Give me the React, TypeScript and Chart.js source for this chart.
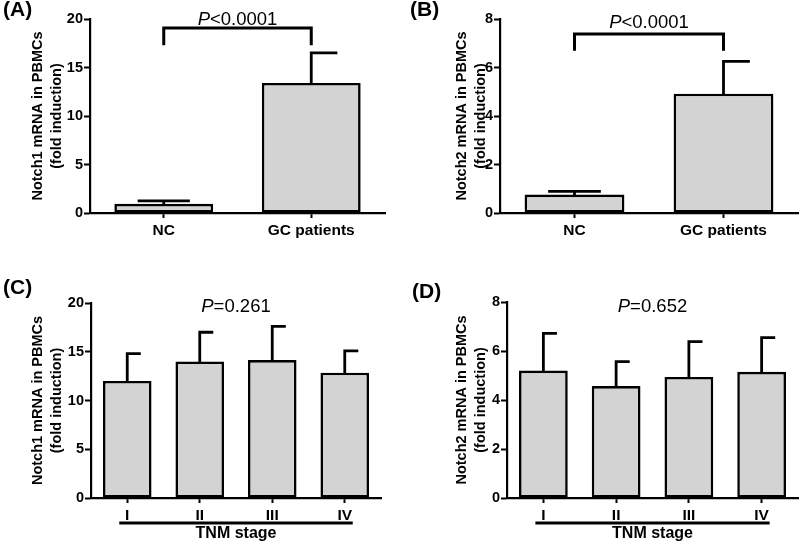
import React, { useEffect, useRef } from 'react';
import { Chart, registerables } from 'chart.js';

Chart.register(...registerables);

// ---------- data ----------
const groupLabels = ['NC', 'GC patients'];
const stageLabels = ['I', 'II', 'III', 'IV'];

const notch1GroupMean = [0.95, 13.4];
const notch1GroupSD = [0.3, 3.1];
const notch2GroupMean = [0.76, 4.92];
const notch2GroupSD = [0.13, 1.33];

const notch1StageMean = [12.0, 14.0, 14.15, 12.85];
const notch1StageSD = [2.8, 3.0, 3.45, 2.25];
const notch2StageMean = [5.2, 4.57, 4.94, 5.15];
const notch2StageSD = [1.52, 1.0, 1.44, 1.4];

const yTitleNotch1 = ['Notch1 mRNA in PBMCs', '(fold induction)'];
const yTitleNotch2 = ['Notch2 mRNA in PBMCs', '(fold induction)'];
const pTexts = ['<0.0001', '<0.0001', '=0.261', '=0.652'];
const panelTags = ['(A)', '(B)', '(C)', '(D)'];
const stageAxisTitle = 'TNM stage';

const FONT = '"Liberation Sans", Arial, Helvetica, sans-serif';

type Panel = {
  tag: string;
  tagX: number;
  tagY: number;
  left: number;
  top: number;
  width: number;
  height: number;
  labels: string[];
  values: number[];
  sd: number[];
  yMax: number;
  yStep: number;
  title: string[];
  titlePad: number;
  yWidth: number;
  xHeight: number;
  padTop: number;
  padRight: number;
  p: string;
  pY: number;
  bracket: null | { y: number; legY: number };
  bothCaps: boolean[];
  tnm: boolean;
};

const panels: Panel[] = [
  {
    tag: panelTags[0], tagX: 3, tagY: 16,
    left: 0, top: 0, width: 400, height: 270,
    labels: groupLabels, values: notch1GroupMean, sd: notch1GroupSD,
    yMax: 20, yStep: 5, title: yTitleNotch1, titlePad: 28.5,
    yWidth: 90, xHeight: 57, padTop: 19, padRight: 15,
    p: pTexts[0], pY: 19.38, bracket: { y: 19.07, legY: 17.3 },
    bothCaps: [true, false], tnm: false,
  },
  {
    tag: panelTags[1], tagX: 10, tagY: 16,
    left: 400, top: 0, width: 400, height: 270,
    labels: groupLabels, values: notch2GroupMean, sd: notch2GroupSD,
    yMax: 8, yStep: 2, title: yTitleNotch2, titlePad: 52.5,
    yWidth: 100, xHeight: 57, padTop: 19, padRight: 2,
    p: pTexts[1], pY: 7.62, bracket: { y: 7.38, legY: 6.69 },
    bothCaps: [true, false], tnm: false,
  },
  {
    tag: panelTags[2], tagX: 3, tagY: 24,
    left: 0, top: 270, width: 400, height: 273,
    labels: stageLabels, values: notch1StageMean, sd: notch1StageSD,
    yMax: 20, yStep: 5, title: yTitleNotch1, titlePad: 28.5,
    yWidth: 91, xHeight: 45, padTop: 33, padRight: 19,
    p: pTexts[2], pY: 19.08, bracket: null,
    bothCaps: [false, false, false, false], tnm: true,
  },
  {
    tag: panelTags[3], tagX: 12, tagY: 27.5,
    left: 400, top: 270, width: 400, height: 273,
    labels: stageLabels, values: notch2StageMean, sd: notch2StageSD,
    yMax: 8, yStep: 2, title: yTitleNotch2, titlePad: 52.5,
    yWidth: 107, xHeight: 45, padTop: 32, padRight: 2,
    p: pTexts[3], pY: 7.58, bracket: null,
    bothCaps: [false, false, false, false], tnm: true,
  },
];

function makeDecor(cfg: Panel) {
  return {
    id: 'panelDecor',
    afterDatasetsDraw(chart: any) {
      const ctx = chart.ctx as CanvasRenderingContext2D;
      const y = chart.scales.y;
      const meta = chart.getDatasetMeta(0);
      ctx.save();
      ctx.strokeStyle = '#000';
      ctx.lineWidth = 2.8;
      ctx.lineCap = 'square';
      meta.data.forEach((bar: any, i: number) => {
        const { x, width } = bar.getProps(['x', 'width'], true);
        const top = y.getPixelForValue(cfg.values[i]);
        const errTop = y.getPixelForValue(cfg.values[i] + cfg.sd[i]);
        const cap = width / 4;
        ctx.beginPath();
        ctx.moveTo(x, top);
        ctx.lineTo(x, errTop);
        ctx.moveTo(cfg.bothCaps[i] ? x - cap : x, errTop);
        ctx.lineTo(x + cap, errTop);
        ctx.stroke();
      });
      ctx.restore();
    },
    afterDraw(chart: any) {
      const ctx = chart.ctx as CanvasRenderingContext2D;
      const area = chart.chartArea;
      const xs = chart.scales.x;
      const y = chart.scales.y;
      ctx.save();
      ctx.fillStyle = '#000';
      ctx.strokeStyle = '#000';
      // panel tag
      ctx.font = `bold 21px ${FONT}`;
      ctx.textAlign = 'left';
      ctx.textBaseline = 'alphabetic';
      ctx.fillText(cfg.tag, cfg.tagX, cfg.tagY);

      // bracket
      let cx = (area.left + area.right) / 2;
      if (cfg.bracket) {
        const x0 = xs.getPixelForValue(0);
        const x1 = xs.getPixelForValue(cfg.labels.length - 1);
        const by = y.getPixelForValue(cfg.bracket.y);
        const ly = y.getPixelForValue(cfg.bracket.legY);
        ctx.lineWidth = 3;
        ctx.lineCap = 'butt';
        ctx.lineJoin = 'miter';
        ctx.beginPath();
        ctx.moveTo(x0, ly);
        ctx.lineTo(x0, by);
        ctx.lineTo(x1, by);
        ctx.lineTo(x1, ly);
        ctx.stroke();
        cx = (x0 + x1) / 2;
      }

      // P value text
      const py = y.getPixelForValue(cfg.pY);
      ctx.font = `italic 18.5px ${FONT}`;
      const wP = ctx.measureText('P').width;
      ctx.font = `18.5px ${FONT}`;
      const wR = ctx.measureText(cfg.p).width;
      const sx = cx - (wP + wR) / 2;
      ctx.textAlign = 'left';
      ctx.font = `italic 18.5px ${FONT}`;
      ctx.fillText('P', sx, py);
      ctx.font = `18.5px ${FONT}`;
      ctx.fillText(cfg.p, sx + wP, py);

      // TNM stage underline and title
      if (cfg.tnm) {
        const first = xs.getPixelForValue(0);
        const last = xs.getPixelForValue(cfg.labels.length - 1);
        const ly = area.bottom + 25;
        ctx.lineWidth = 3;
        ctx.lineCap = 'butt';
        ctx.beginPath();
        ctx.moveTo(first - 8, ly);
        ctx.lineTo(last + 8, ly);
        ctx.stroke();
        ctx.font = `bold 16px ${FONT}`;
        ctx.textAlign = 'center';
        ctx.fillText(stageAxisTitle, (first + last) / 2, area.bottom + 40);
      }
      ctx.restore();
    },
  };
}

function PanelChart({ cfg }: { cfg: Panel }) {
  const ref = useRef<HTMLCanvasElement | null>(null);
  useEffect(() => {
    if (!ref.current) return;
    const chart = new Chart(ref.current, {
      type: 'bar',
      data: {
        labels: cfg.labels,
        datasets: [
          {
            data: cfg.values,
            backgroundColor: '#d3d3d3',
            borderColor: '#000',
            borderWidth: 2.6,
            borderSkipped: false,
            barPercentage: 0.67,
            categoryPercentage: 1,
          },
        ],
      },
      options: {
        responsive: false,
        animation: false,
        events: [],
        layout: { padding: { left: 0, right: cfg.padRight, top: cfg.padTop, bottom: 0 } },
        plugins: { legend: { display: false }, tooltip: { enabled: false }, title: { display: false } },
        scales: {
          x: {
            offset: true,
            afterFit: (s: any) => { s.height = cfg.xHeight; },
            border: { display: true, color: '#000', width: 2.2 },
            grid: {
              display: true,
              drawOnChartArea: false,
              offset: false,
              drawTicks: true,
              tickLength: 5,
              tickColor: '#000',
              tickWidth: 2,
            },
            ticks: {
              color: '#000',
              padding: 3,
              maxRotation: 0,
              font: { family: FONT, size: 15.5, weight: 'bold' },
            },
          },
          y: {
            min: 0,
            max: cfg.yMax,
            afterFit: (s: any) => { s.width = cfg.yWidth; },
            border: { display: true, color: '#000', width: 2.2 },
            grid: {
              display: true,
              drawOnChartArea: false,
              drawTicks: true,
              tickLength: 6,
              tickColor: '#000',
              tickWidth: 2,
            },
            ticks: {
              stepSize: cfg.yStep,
              color: '#000',
              padding: 1,
              font: { family: FONT, size: 14.5, weight: 'bold' },
            },
            title: {
              display: true,
              text: cfg.title,
              color: '#000',
              padding: { top: cfg.titlePad, bottom: 0 },
              font: { family: FONT, size: 14.5, weight: 'bold', lineHeight: '19px' },
            },
          },
        },
      } as any,
      plugins: [makeDecor(cfg)],
    });
    return () => chart.destroy();
  }, [cfg]);
  return (
    <canvas
      ref={ref}
      width={cfg.width}
      height={cfg.height}
      style={{ position: 'absolute', left: cfg.left, top: cfg.top, width: cfg.width, height: cfg.height }}
    />
  );
}

export default function App() {
  return (
    <div style={{ position: 'absolute', left: 0, top: 0, width: 800, height: 543, background: '#fff' }}>
      {panels.map((p) => (
        <PanelChart key={p.tag} cfg={p} />
      ))}
    </div>
  );
}
